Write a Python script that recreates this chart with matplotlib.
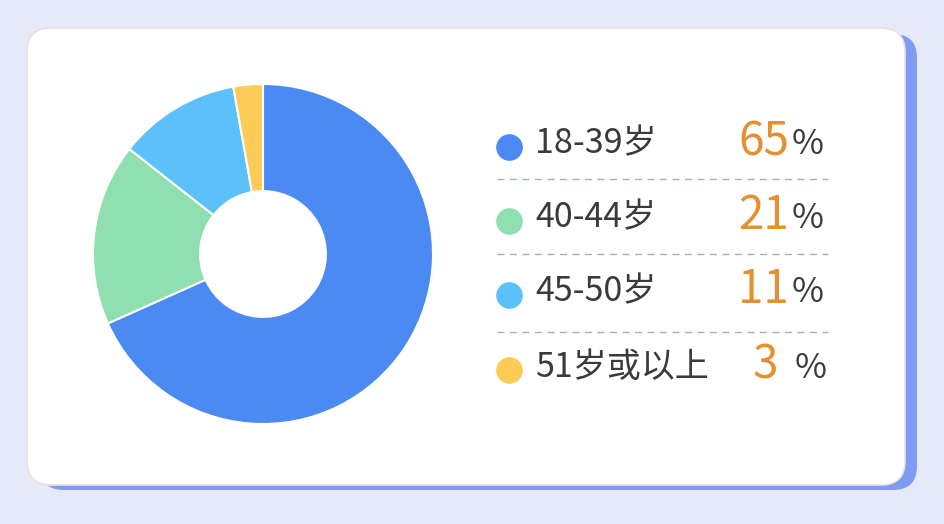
import matplotlib.pyplot as plt
from matplotlib.patches import FancyBboxPatch

plt.rcParams['font.family'] = ['Noto Sans CJK SC', 'DejaVu Sans']

# --- dados ---
faixas = ['18-39岁', '40-44岁', '45-50岁', '51岁或以上']
percentuais = [65, 21, 11, 3]
# fatias como desenhadas no gráfico original
fatias = [68.3, 17.3, 11.6, 2.8]
cores = ['#4b89f3', '#8fdfb1', '#5bc1f8', '#fccb58']

W, H = 944, 524
fig = plt.figure(figsize=(W / 100, H / 100), dpi=100)
fig.patch.set_facecolor('#e6e9f7')

# camada de fundo em pixels
bg = fig.add_axes([0, 0, 1, 1])
bg.set_xlim(0, W)
bg.set_ylim(H, 0)
bg.axis('off')

sombra = FancyBboxPatch((40, 34), 877, 456,
                        boxstyle='round,pad=0,rounding_size=24',
                        facecolor='#7f9cf2', edgecolor='none')
bg.add_patch(sombra)
cartao = FancyBboxPatch((27, 28), 878, 457,
                        boxstyle='round,pad=0,rounding_size=24',
                        facecolor='white', edgecolor='#f1dde6', linewidth=1.2)
bg.add_patch(cartao)

# --- rosca ---
cx, cy, r = 263, 254, 170
ax = fig.add_axes([(cx - r) / W, (H - cy - r) / H, 2 * r / W, 2 * r / H])
ax.pie(fatias, colors=cores, startangle=90, counterclock=False, radius=1,
       wedgeprops=dict(width=0.63, edgecolor='white', linewidth=1.5))
ax.set_xlim(-1, 1)
ax.set_ylim(-1, 1)
ax.set_aspect('equal')
ax.axis('off')

# --- legenda ---
linhas_y = [144, 218, 292, 367]
for i, (nome, pct, cor) in enumerate(zip(faixas, percentuais, cores)):
    y = linhas_y[i]
    bg.scatter([509], [y + 3], s=330, color=cor, zorder=3)
    bg.text(535, y, nome, fontsize=24.5, color='#3a3a3a', va='center', ha='left')
    numero = str(pct) if pct >= 10 else str(pct) + ' '
    bg.text(789, y - 2, numero, fontsize=33, color='#e58f2f', va='center', ha='right')
    bg.text(792 if pct >= 10 else 795, y + 1, '%', fontsize=25, color='#3a3a3a',
            va='center', ha='left')

for y in [179, 254, 332]:
    bg.plot([497, 828], [y, y], color='#9fb3b6', linewidth=1, linestyle=(0, (5, 4)))

fig.savefig('out.png', dpi=100, facecolor=fig.get_facecolor())
